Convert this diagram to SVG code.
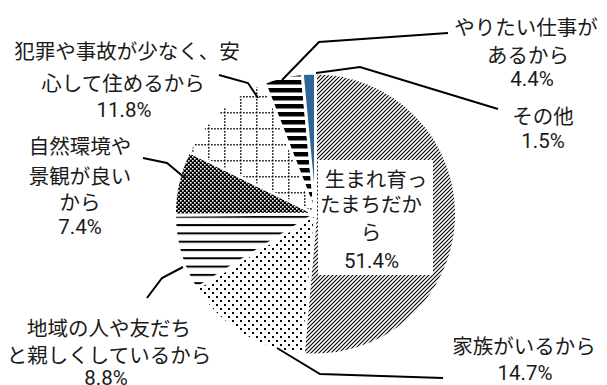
<svg xmlns="http://www.w3.org/2000/svg" width="607" height="385" viewBox="0 0 607 385">
<style>
text{font-family:Roboto,"Noto Sans CJK JP",sans-serif;font-size:20.5px;fill:#1a1a1a;text-anchor:middle}
.sl{stroke:#fff;stroke-width:3;stroke-linejoin:round}
.ld{fill:none;stroke:#000;stroke-width:2}
</style>
<defs>
<pattern id="pDiag" patternUnits="userSpaceOnUse" width="4" height="4">
<path d="M-1,1 L1,-1 M0,4 L4,0 M3,5 L5,3" stroke="#000" stroke-width="1.1"/>
</pattern>
<pattern id="pDots" patternUnits="userSpaceOnUse" width="8" height="8">
<rect x="0" y="0" width="2" height="2" fill="#000"/>
<rect x="4" y="4" width="2" height="2" fill="#000"/>
</pattern>
<pattern id="pHLine" patternUnits="userSpaceOnUse" width="8" height="8.3">
<rect x="0" y="0" width="8" height="2" fill="#000"/>
</pattern>
<pattern id="pCheck" patternUnits="userSpaceOnUse" width="4" height="4">
<rect width="4" height="4" fill="#000"/>
<rect x="0" y="0" width="1.6" height="1.6" fill="#fff"/>
<rect x="2" y="2" width="1.6" height="1.6" fill="#fff"/>
</pattern>
<pattern id="pGrid" patternUnits="userSpaceOnUse" width="16" height="16">
<path d="M0,0.75 H16 M0.75,0 V16" stroke="#000" stroke-width="1.5" stroke-dasharray="1.5 1.6"/>
</pattern>
<pattern id="pWide" patternUnits="userSpaceOnUse" width="8" height="8">
<rect x="0" y="0" width="8" height="4.5" fill="#000"/>
</pattern>
</defs>
<rect width="607" height="385" fill="#fff"/>

<g id="slice-umare">
<path class="sl" fill="url(#pDiag)" d="M315.5,214 L315.5,73 A141,141 0 1 1 303.11,354.45 Z"/>
<rect x="318" y="160" width="115" height="115" fill="#fff"/>
<text x="376" y="186.5">生まれ育っ</text>
<text x="371" y="212">たまちだか</text>
<text x="371" y="240">ら</text>
<text x="371.5" y="268">51.4%</text>
</g>
<g id="slice-kazoku">
<path class="sl" fill="url(#pDots)" d="M315.5,214 L303.11,354.45 A141,141 0 0 1 195.99,288.82 Z"/>
<text x="524" y="353.5">家族がいるから</text>
<text x="525" y="380">14.7%</text>
</g>
<g id="slice-chiiki">
<path class="sl" fill="url(#pHLine)" d="M315.5,214 L195.99,288.82 A141,141 0 0 1 174.5,214.89 Z"/>
<text x="109" y="335.5">地域の人や友だち</text>
<text x="109" y="363">と親しくしているから</text>
<text x="106" y="384.5">8.8%</text>
</g>
<g id="slice-shizen">
<path class="sl" fill="url(#pCheck)" d="M315.5,214 L174.5,214.89 A141,141 0 0 1 189.08,151.57 Z"/>
<text x="80" y="153.5">自然環境や</text>
<text x="80" y="183.5">景観が良い</text>
<text x="80" y="210">から</text>
<text x="80" y="234">7.4%</text>
</g>
<g id="slice-hanzai">
<path class="sl" fill="url(#pGrid)" d="M315.5,214 L189.08,151.57 A141,141 0 0 1 264.42,82.58 Z"/>
<text x="127" y="59">犯罪や事故が少なく、安</text>
<text x="123" y="91">心して住めるから</text>
<text x="124" y="117">11.8%</text>
</g>
<g id="slice-shigoto">
<path class="sl" fill="url(#pWide)" d="M315.5,214 L264.42,82.58 A141,141 0 0 1 302.23,73.63 Z"/>
<text x="526" y="34.5">やりたい仕事が</text>
<text x="528" y="62.5">あるから</text>
<text x="532" y="86">4.4%</text>
</g>
<g id="slice-sonota">
<path class="sl" fill="#2e6496" d="M315.5,214 L302.23,73.63 A141,141 0 0 1 315.5,73 Z"/>
<text x="543" y="123.5">その他</text>
<text x="543" y="148">1.5%</text>
</g>

<g id="connectors">
<polyline class="ld" points="282,80 319,42 448,33"/>
<polyline class="ld" points="316,73 360,67 498,109"/>
<polyline class="ld" points="219,75 248,83 258,98"/>
<polyline class="ld" points="143,158 167,163 185,178"/>
<polyline class="ld" points="183,267 162,278 147,298"/>
<polyline class="ld" points="277,348 320,374 443,378"/>
</g>
</svg>
